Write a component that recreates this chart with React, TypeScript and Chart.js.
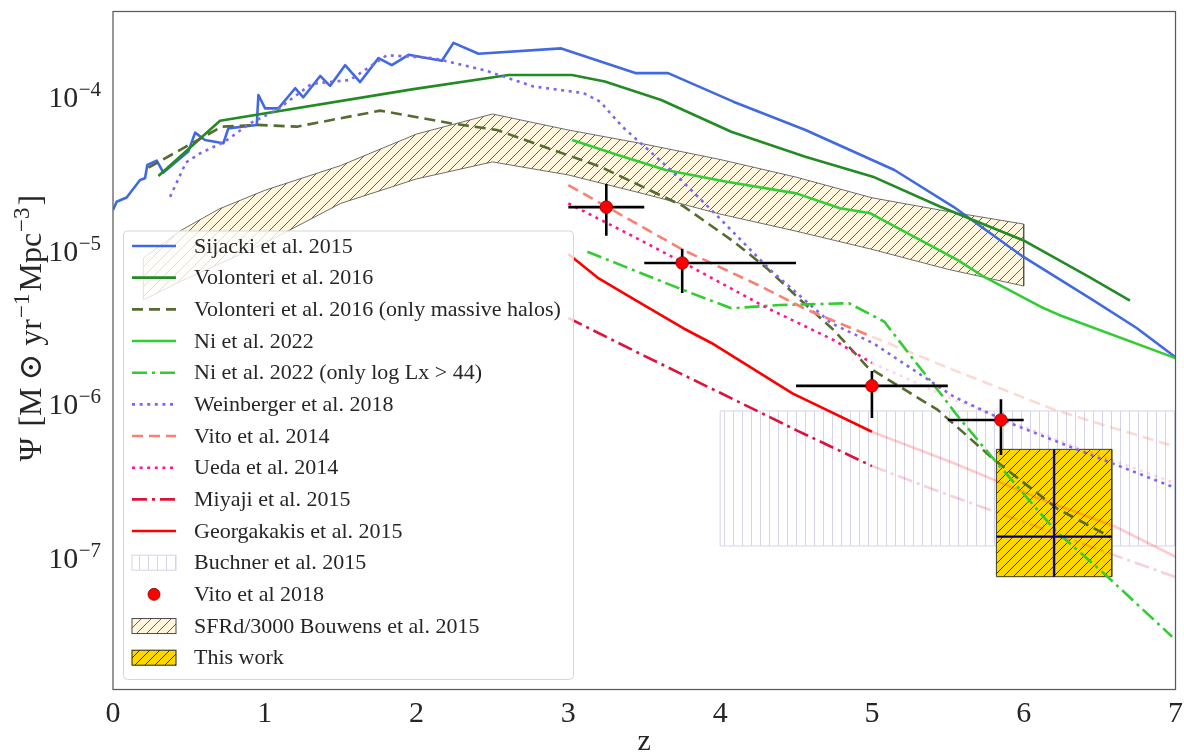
import React, { useEffect, useRef } from "react";
import { Chart, registerables } from "chart.js";

Chart.register(...registerables);

// ---------------- data ----------------
const sijackiZ = [0.0, 0.024, 0.09, 0.178, 0.211, 0.226, 0.288, 0.332, 0.496, 0.541, 0.606, 0.727, 0.76, 0.947, 0.958, 1.002, 1.09, 1.2, 1.254, 1.365, 1.43, 1.529, 1.628, 1.749, 1.837, 1.947, 2.167, 2.243, 2.408, 2.953, 3.441, 3.657, 4.087, 4.562, 5.148, 5.537, 5.996, 6.454, 6.744, 7.0];
const sijackiPsi = [1.84e-5, 2.08e-5, 2.22e-5, 2.88e-5, 2.96e-5, 3.61e-5, 3.85e-5, 3.22e-5, 4.41e-5, 5.86e-5, 5.25e-5, 5.0e-5, 6.25e-5, 6.57e-5, 1.03e-4, 8.43e-5, 8.43e-5, 1.14e-4, 9.95e-5, 1.37e-4, 1.18e-4, 1.61e-4, 1.25e-4, 1.79e-4, 1.61e-4, 1.88e-4, 1.72e-4, 2.25e-4, 1.91e-4, 2.07e-4, 1.43e-4, 1.43e-4, 9.32e-5, 6.1e-5, 3.35e-5, 1.93e-5, 9.14e-6, 4.78e-6, 3.14e-6, 2.03e-6];

const volonteriZ = [0.299, 0.705, 1.969, 2.606, 3.024, 3.24, 3.612, 4.073, 4.561, 5.006, 5.451, 5.996, 6.427, 6.7];
const volonteriPsi = [3.06e-5, 7.01e-5, 1.12e-4, 1.39e-4, 1.39e-4, 1.26e-4, 9.56e-5, 5.94e-5, 4.09e-5, 3.03e-5, 1.93e-5, 1.17e-5, 6.78e-6, 4.73e-6];

const massiveZ = [0.233, 0.717, 0.947, 1.211, 1.76, 2.222, 2.529, 3.21, 3.757, 4.087, 4.309, 4.529, 4.748, 4.968, 5.434, 5.807, 6.22, 6.572];
const massivePsi = [3.47e-5, 6.41e-5, 6.58e-5, 6.41e-5, 8.15e-5, 6.75e-5, 6.1e-5, 3.52e-5, 1.95e-5, 1.15e-5, 7.67e-6, 4.78e-6, 3.05e-6, 1.76e-6, 9.2e-7, 4.35e-7, 2.1e-7, 1.37e-7];

const niZ = [3.025, 3.326, 3.642, 4.044, 4.502, 4.79, 4.99, 5.279, 5.566, 5.737, 6.111, 6.233, 7.0];
const niPsi = [5.25e-5, 4.19e-5, 3.35e-5, 2.81e-5, 2.36e-5, 1.89e-5, 1.75e-5, 1.23e-5, 8.69e-6, 6.77e-6, 4.32e-6, 3.82e-6, 2.0e-6];

const niLxZ = [3.125, 3.757, 4.073, 4.397, 4.848, 5.082, 5.275, 5.434, 5.568, 5.807, 6.206, 6.552, 6.978];
const niLxPsi = [9.85e-6, 5.55e-6, 4.22e-6, 4.43e-6, 4.55e-6, 3.45e-6, 1.95e-6, 1.24e-6, 8.32e-7, 4.35e-7, 1.52e-7, 7.57e-8, 3.08e-8];

const weinbergerZ = [0.376, 0.481, 0.574, 0.738, 0.903, 1.079, 1.309, 1.562, 1.804, 2.111, 2.441, 2.771, 3.1, 3.21, 3.355, 3.527, 3.698, 3.987, 4.331, 4.733, 5.009, 5.541, 5.913, 6.472, 7.0];
const weinbergerPsi = [2.24e-5, 3.75e-5, 4.3e-5, 5.13e-5, 6.74e-5, 8.23e-5, 1.22e-4, 1.29e-4, 1.87e-4, 1.79e-4, 1.5e-4, 1.17e-4, 1.06e-4, 9.32e-5, 6.41e-5, 4.52e-5, 3.19e-5, 1.66e-5, 7.48e-6, 3.37e-6, 2.5e-6, 1.12e-6, 7.53e-7, 4.57e-7, 2.86e-7];

const vito14Z = [3.0, 3.757, 4.272, 4.573, 5.0];
const vito14Psi = [2.67e-5, 1.01e-5, 5.84e-6, 4.12e-6, 2.76e-6];
const vito14ExtZ = [5.0, 5.541, 6.206, 7.0];
const vito14ExtPsi = [2.76e-6, 1.67e-6, 9.2e-7, 5.29e-7];

const uedaZ = [3.0, 3.413, 3.786, 4.309, 4.748, 5.0];
const uedaPsi = [2.03e-5, 1.26e-5, 8.07e-6, 4.24e-6, 2.62e-6, 1.86e-6];
const uedaExtZ = [5.0, 5.541, 6.339, 7.0];
const uedaExtPsi = [1.86e-6, 1.07e-6, 5.31e-7, 3.07e-7];

const miyajiZ = [3.0, 3.5, 4.0, 4.5, 5.0];
const miyajiPsi = [3.65e-6, 2.07e-6, 1.19e-6, 6.81e-7, 3.97e-7];
const miyajiExtZ = [5.0, 5.5, 6.0, 6.5, 7.0];
const miyajiExtPsi = [3.97e-7, 2.58e-7, 1.72e-7, 1.13e-7, 7.53e-8];

const georgZ = [3.0, 3.2, 3.439, 3.757, 3.945, 4.476, 5.0];
const georgPsi = [9.52e-6, 6.6e-6, 4.78e-6, 3.13e-6, 2.5e-6, 1.18e-6, 6.64e-7];
const georgExtZ = [5.0, 5.541, 6.071, 6.605, 7.0];
const georgExtPsi = [6.64e-7, 4.14e-7, 2.51e-7, 1.6e-7, 1.02e-7];

const buchnerZ = [4.0, 7.0];
const buchnerPsi = [1.2e-7, 9.06e-7];

const bouwensZ = [0.2, 0.45, 0.7, 1.0, 1.5, 2.0, 2.5, 3.0, 3.5, 4.0, 4.5, 5.0, 5.5, 6.0];
const bouwensHi = [8.96e-6, 1.36e-5, 1.87e-5, 2.47e-5, 3.58e-5, 5.74e-5, 7.75e-5, 6.1e-5, 4.94e-5, 3.92e-5, 3.01e-5, 2.21e-5, 1.8e-5, 1.49e-5];
const bouwensLo = [4.78e-6, 6.35e-6, 8.19e-6, 1.12e-5, 2.03e-5, 2.93e-5, 3.78e-5, 3.11e-5, 2.34e-5, 1.73e-5, 1.34e-5, 1.02e-5, 7.57e-6, 5.89e-6];

const vito18Z = [3.25, 3.75, 5.0, 5.85];
const vito18ZLo = [3.0, 3.5, 4.5, 5.5];
const vito18ZHi = [3.5, 4.5, 5.5, 6.0];
const vito18Psi = [1.92e-5, 8.32e-6, 1.32e-6, 7.92e-7];
const vito18PsiLo = [1.25e-5, 5.31e-6, 8.17e-7, 4.69e-7];
const vito18PsiHi = [2.72e-5, 1.03e-5, 1.65e-6, 1.08e-6];

const thisWorkZ = [5.82, 6.2, 6.58];
const thisWorkPsi = [7.57e-8, 1.38e-7, 5.1e-7];

const xTicks = [0, 1, 2, 3, 4, 5, 6, 7];
const yTickExps = [-4, -5, -6, -7];
const zRange = [0, 7];
const psiRange = [1.397e-8, 3.598e-4];

const legendLabels = [
  "Sijacki et al. 2015",
  "Volonteri et al. 2016",
  "Volonteri et al. 2016 (only massive halos)",
  "Ni et al. 2022",
  "Ni et al. 2022 (only log Lx > 44)",
  "Weinberger et al. 2018",
  "Vito et al. 2014",
  "Ueda et al. 2014",
  "Miyaji et al. 2015",
  "Georgakakis et al. 2015",
  "Buchner et al. 2015",
  "Vito et al 2018",
  "SFRd/3000 Bouwens et al. 2015",
  "This work",
];

// ---------------- styles ----------------
const SERIF = '"Liberation Serif", "Times New Roman", "DejaVu Serif", serif';
const TXT = "#262626";
const COL = {
  sijacki: "#4169E1",
  volonteri: "#228B22",
  massive: "#556B2F",
  ni: "#32CD32",
  weinberger: "#7B68EE",
  vito14: "#FA8072",
  ueda: "#FF1493",
  miyaji: "#DC143C",
  georg: "#FF0000",
};
const DASH = [11, 6];
const DOT = [3, 4.6];
const DASHDOT = [15, 5, 3, 5];
const LW = 2.6;

function makeTile(bg: string | null, stroke: string, lw: number, s: number, kind: "diag" | "vert") {
  const c = document.createElement("canvas");
  c.width = s;
  c.height = s;
  const g = c.getContext("2d")!;
  if (bg) {
    g.fillStyle = bg;
    g.fillRect(0, 0, s, s);
  }
  g.strokeStyle = stroke;
  g.lineWidth = lw;
  g.beginPath();
  if (kind === "diag") {
    for (const k of [-1, 0, 1]) {
      g.moveTo(k * s - 1, s + 1);
      g.lineTo(k * s + s + 1, -1);
    }
  } else {
    g.moveTo(s / 2, 0);
    g.lineTo(s / 2, s);
  }
  g.stroke();
  return c;
}

const pts = (zs: number[], ps: number[]) => zs.map((z, i) => ({ x: z, y: ps[i] }));

function lineDs(label: string, zs: number[], ps: number[], color: string, dash: number[], lw = LW) {
  return {
    label,
    data: pts(zs, ps),
    showLine: true,
    borderColor: color,
    backgroundColor: color,
    borderWidth: lw,
    borderDash: dash,
    borderCapStyle: "butt" as const,
    borderJoinStyle: "round" as const,
    pointRadius: 0,
    pointHoverRadius: 0,
    fill: false,
    tension: 0,
  };
}

function polyDs(label: string, data: { x: number; y: number }[], fillStyle: any, edge: string, lw: number) {
  return {
    label,
    data,
    showLine: true,
    borderColor: edge,
    borderWidth: lw,
    backgroundColor: fillStyle,
    pointRadius: 0,
    pointHoverRadius: 0,
    fill: "shape",
    tension: 0,
  };
}

export default function App() {
  const ref = useRef<HTMLCanvasElement>(null);

  useEffect(() => {
    const canvas = ref.current!;
    const ctx = canvas.getContext("2d")!;
    const bouwensPat = ctx.createPattern(makeTile("#FFF6DE", "#3a3a3a", 0.8, 10, "diag"), "repeat");
    const thisPat = ctx.createPattern(makeTile("#FFD700", "#1a1a1a", 0.9, 10, "diag"), "repeat");
    const buchnerPat = ctx.createPattern(makeTile("#ffffff", "#d4d4ec", 1, 9, "vert"), "repeat");

    const bouwensPoly = [
      ...pts(bouwensZ, bouwensHi),
      ...pts(bouwensZ, bouwensLo).reverse(),
    ];
    bouwensPoly.push({ ...bouwensPoly[0] });
    const rect = (z0: number, z1: number, p0: number, p1: number) => [
      { x: z0, y: p0 },
      { x: z0, y: p1 },
      { x: z1, y: p1 },
      { x: z1, y: p0 },
      { x: z0, y: p0 },
    ];
    const buchnerPoly = rect(buchnerZ[0], buchnerZ[1], buchnerPsi[0], buchnerPsi[1]);
    const thisPoly = rect(thisWorkZ[0], thisWorkZ[2], thisWorkPsi[0], thisWorkPsi[2]);

    const errData: { x: number; y: number | null }[] = [];
    vito18Z.forEach((z, i) => {
      errData.push(
        { x: vito18ZLo[i], y: vito18Psi[i] },
        { x: vito18ZHi[i], y: vito18Psi[i] },
        { x: vito18ZHi[i], y: null },
        { x: z, y: vito18PsiLo[i] },
        { x: z, y: vito18PsiHi[i] },
        { x: z, y: null }
      );
    });
    const crossData = [
      { x: thisWorkZ[1], y: thisWorkPsi[0] },
      { x: thisWorkZ[1], y: thisWorkPsi[2] },
      { x: thisWorkZ[1], y: null },
      { x: thisWorkZ[0], y: thisWorkPsi[1] },
      { x: thisWorkZ[2], y: thisWorkPsi[1] },
    ];

    const datasets: any[] = [
      {
        label: legendLabels[11],
        data: pts(vito18Z, vito18Psi),
        showLine: false,
        pointRadius: 6.3,
        pointBackgroundColor: "#ff0000",
        pointBorderColor: "#8b0000",
        pointBorderWidth: 0.8,
      },
      { ...lineDs("Vito18 errors", [], [], "#000", [], 2.6), data: errData, spanGaps: false },
      { ...lineDs("This work cross", [], [], "#00008B", [], 2.4), data: crossData, spanGaps: false },
      lineDs(legendLabels[9], georgZ, georgPsi, COL.georg, []),
      lineDs(legendLabels[8], miyajiZ, miyajiPsi, COL.miyaji, DASHDOT),
      lineDs(legendLabels[7], uedaZ, uedaPsi, COL.ueda, DOT),
      lineDs(legendLabels[6], vito14Z, vito14Psi, COL.vito14, DASH),
      lineDs(legendLabels[5], weinbergerZ, weinbergerPsi, COL.weinberger, DOT),
      lineDs(legendLabels[4], niLxZ, niLxPsi, COL.ni, DASHDOT),
      lineDs(legendLabels[3], niZ, niPsi, COL.ni, []),
      lineDs(legendLabels[2], massiveZ, massivePsi, COL.massive, DASH),
      lineDs(legendLabels[1], volonteriZ, volonteriPsi, COL.volonteri, []),
      lineDs(legendLabels[0], sijackiZ, sijackiPsi, COL.sijacki, []),
      lineDs("Georgakakis ext", georgExtZ, georgExtPsi, "rgba(255,0,0,0.2)", []),
      lineDs("Miyaji ext", miyajiExtZ, miyajiExtPsi, "rgba(220,20,60,0.2)", DASHDOT),
      lineDs("Ueda ext", uedaExtZ, uedaExtPsi, "rgba(255,20,147,0.18)", DOT),
      lineDs("Vito14 ext", vito14ExtZ, vito14ExtPsi, "rgba(250,128,114,0.3)", DASH),
      polyDs(legendLabels[13], thisPoly, thisPat, "#3a3a3a", 1),
      polyDs(legendLabels[12], bouwensPoly, bouwensPat, "#4a4a4a", 0.8),
      polyDs(legendLabels[10], buchnerPoly, buchnerPat, "#d4d4ec", 1),
    ];

    const legendStyles: any[] = [
      { kind: "line", color: COL.sijacki, dash: [] },
      { kind: "line", color: COL.volonteri, dash: [] },
      { kind: "line", color: COL.massive, dash: DASH },
      { kind: "line", color: COL.ni, dash: [] },
      { kind: "line", color: COL.ni, dash: DASHDOT },
      { kind: "line", color: COL.weinberger, dash: DOT },
      { kind: "line", color: COL.vito14, dash: DASH },
      { kind: "line", color: COL.ueda, dash: DOT },
      { kind: "line", color: COL.miyaji, dash: DASHDOT },
      { kind: "line", color: COL.georg, dash: [] },
      { kind: "patch", fill: buchnerPat, edge: "#d4d4ec" },
      { kind: "marker" },
      { kind: "patch", fill: bouwensPat, edge: "#4a4a4a" },
      { kind: "patch", fill: thisPat, edge: "#222" },
    ];

    const decor = {
      id: "decor",
      afterDatasetsDraw(chart: any) {
        const c = chart.ctx as CanvasRenderingContext2D;
        const a = chart.chartArea;
        c.save();
        c.strokeStyle = "#5a5a5a";
        c.lineWidth = 1.25;
        c.setLineDash([]);
        c.strokeRect(a.left, a.top, a.right - a.left, a.bottom - a.top);

        const L = { l: 123.5, t: 231, r: 573.5, b: 679.5, rad: 4 };
        c.beginPath();
        c.moveTo(L.l + L.rad, L.t);
        c.lineTo(L.r - L.rad, L.t);
        c.quadraticCurveTo(L.r, L.t, L.r, L.t + L.rad);
        c.lineTo(L.r, L.b - L.rad);
        c.quadraticCurveTo(L.r, L.b, L.r - L.rad, L.b);
        c.lineTo(L.l + L.rad, L.b);
        c.quadraticCurveTo(L.l, L.b, L.l, L.b - L.rad);
        c.lineTo(L.l, L.t + L.rad);
        c.quadraticCurveTo(L.l, L.t, L.l + L.rad, L.t);
        c.closePath();
        c.fillStyle = "rgba(255,255,255,0.8)";
        c.fill();
        c.strokeStyle = "#d6d6d6";
        c.lineWidth = 1;
        c.stroke();

        const hx0 = 132, hx1 = 176, tx = 194, row0 = 246, step = 31.67;
        c.font = `22px ${SERIF}`;
        c.textBaseline = "middle";
        c.textAlign = "left";
        legendLabels.forEach((lab, i) => {
          const yy = row0 + i * step;
          const st = legendStyles[i];
          if (st.kind === "line") {
            c.beginPath();
            c.setLineDash(st.dash);
            c.lineCap = "butt";
            c.strokeStyle = st.color;
            c.lineWidth = LW;
            c.moveTo(hx0, yy);
            c.lineTo(hx1, yy);
            c.stroke();
            c.setLineDash([]);
          } else if (st.kind === "patch") {
            c.fillStyle = st.fill;
            c.fillRect(hx0, yy - 7.5, hx1 - hx0, 15);
            c.strokeStyle = st.edge;
            c.lineWidth = 1;
            c.strokeRect(hx0, yy - 7.5, hx1 - hx0, 15);
          } else {
            c.beginPath();
            c.arc((hx0 + hx1) / 2, yy, 6, 0, Math.PI * 2);
            c.fillStyle = "#ff0000";
            c.fill();
            c.strokeStyle = "#8b0000";
            c.lineWidth = 0.8;
            c.stroke();
          }
          c.fillStyle = TXT;
          c.fillText(lab, tx, yy + 1);
        });
        c.restore();
      },
      afterDraw(chart: any) {
        const c = chart.ctx as CanvasRenderingContext2D;
        const ys = chart.scales.y;
        const xs = chart.scales.x;
        c.save();
        c.fillStyle = TXT;
        yTickExps.forEach((e) => {
          const py = ys.getPixelForValue(Math.pow(10, e));
          const right = 101;
          c.textAlign = "right";
          c.textBaseline = "alphabetic";
          c.font = `21px ${SERIF}`;
          const sup = "\u2212" + Math.abs(e);
          const sw = c.measureText(sup).width;
          c.fillText(sup, right, py - 1);
          c.font = `30px ${SERIF}`;
          c.fillText("10", right - sw - 0.5, py + 10);
        });
        c.textAlign = "center";
        c.textBaseline = "alphabetic";
        c.font = `30px ${SERIF}`;
        c.fillText("z", (xs.left + xs.right) / 2, 750);

        const pieces: { t: string; sup?: boolean; gap?: number }[] = [
          { t: "\u03A8" },
          { t: "", gap: 11 },
          { t: "[" },
          { t: "M" },
          { t: "", gap: 7 },
          { t: "\u2299" },
          { t: "", gap: 8 },
          { t: "yr" },
          { t: "", gap: 1 },
          { t: "\u22121", sup: true },
          { t: "", gap: 2 },
          { t: "Mpc" },
          { t: "", gap: 1 },
          { t: "\u22123", sup: true },
          { t: "", gap: 2 },
          { t: "]" },
        ];
        const big = `32px ${SERIF}`;
        const small = `23px ${SERIF}`;
        let total = 0;
        pieces.forEach((p) => {
          if (p.gap) total += p.gap;
          else {
            c.font = p.sup ? small : big;
            total += c.measureText(p.t).width;
          }
        });
        c.translate(41, 328);
        c.rotate(-Math.PI / 2);
        c.textAlign = "left";
        let xx = -total / 2;
        pieces.forEach((p) => {
          if (p.gap) {
            xx += p.gap;
            return;
          }
          c.font = p.sup ? small : big;
          c.fillText(p.t, xx, p.sup ? -12 : 0);
          xx += c.measureText(p.t).width;
        });
        c.restore();
      },
    };

    const chart = new Chart(canvas, {
      type: "scatter",
      data: { datasets },
      options: {
        animation: false,
        responsive: true,
        maintainAspectRatio: false,
        events: [],
        layout: { padding: { top: 11.5, right: 8.5, left: 0, bottom: 0 } },
        plugins: { legend: { display: false }, tooltip: { enabled: false } },
        scales: {
          x: {
            type: "linear",
            min: zRange[0],
            max: zRange[1],
            bounds: "data",
            grid: { display: false },
            border: { display: false },
            afterBuildTicks: (s: any) => {
              s.ticks = xTicks.map((v) => ({ value: v }));
            },
            ticks: {
              font: { family: SERIF, size: 30 },
              color: TXT,
              padding: -1,
              maxRotation: 0,
              autoSkip: false,
              callback: (v: any) => String(v),
            },
            afterFit: (s: any) => {
              s.height = 63.5;
              s.paddingLeft = 0;
              s.paddingRight = 0;
            },
          },
          y: {
            type: "logarithmic",
            min: psiRange[0],
            max: psiRange[1],
            bounds: "data",
            grid: { display: false },
            border: { display: false },
            ticks: { display: false },
            afterFit: (s: any) => {
              s.width = 113;
            },
          },
        },
      } as any,
      plugins: [decor],
    });
    return () => chart.destroy();
  }, []);

  return (
    <div style={{ position: "fixed", left: 0, top: 0, width: 1184, height: 753, background: "#fff" }}>
      <canvas ref={ref} />
    </div>
  );
}
